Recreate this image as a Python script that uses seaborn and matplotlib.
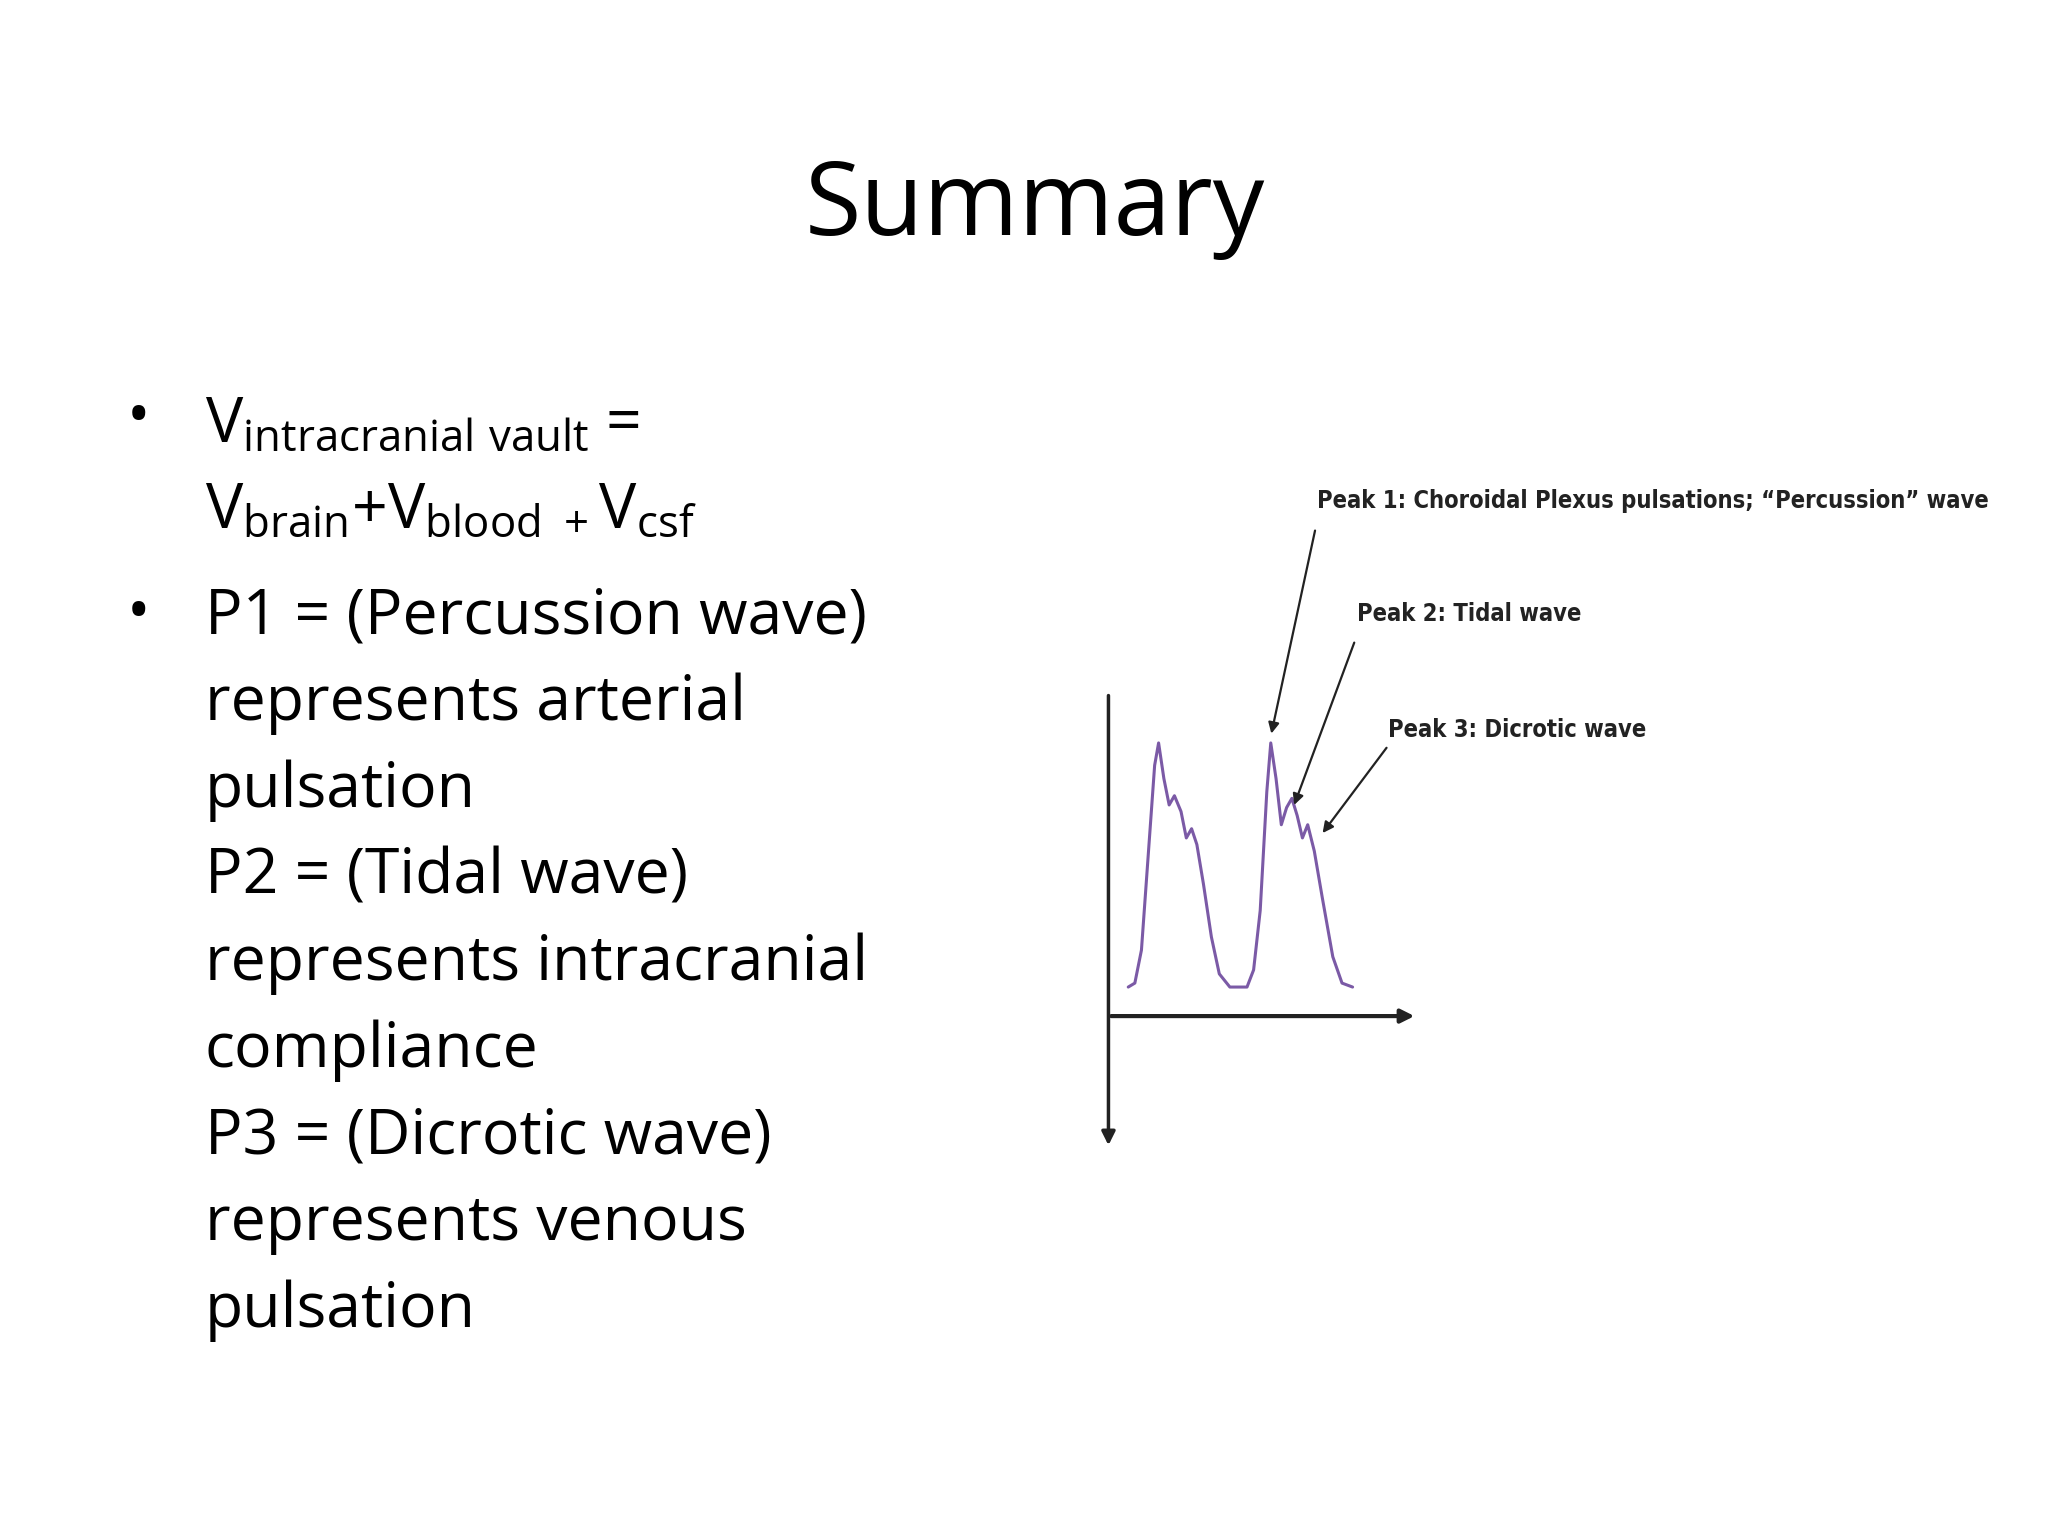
import matplotlib
matplotlib.use("Agg")
import matplotlib.pyplot as plt
import seaborn as sns
import pandas as pd

sns.set_theme(style="white")
plt.rcParams['font.family'] = ['Open Sans', 'DejaVu Sans']
plt.rcParams['mathtext.fontset'] = 'custom'
plt.rcParams['mathtext.rm'] = 'Open Sans'
plt.rcParams['mathtext.it'] = 'Open Sans'
plt.rcParams['text.color'] = 'black'

title = "Summary"
body_lines = ["P1 = (Percussion wave)", "represents arterial", "pulsation",
              "P2 = (Tidal wave)", "represents intracranial", "compliance",
              "P3 = (Dicrotic wave)", "represents venous", "pulsation"]
peak_labels = ["Peak 1: Choroidal Plexus pulsations; \u201cPercussion\u201d wave",
               "Peak 2: Tidal wave", "Peak 3: Dicrotic wave"]

# waveform (time, pressure) in image pixel units
wave_t = [855, 860, 865, 870, 875, 878, 882, 886, 890, 895, 899, 903, 907, 912, 918, 924, 932,
          945, 950, 955, 960, 963, 967, 971, 975, 979, 983, 987, 991, 996, 1002, 1010, 1017, 1025]
wave_p = [748, 745, 720, 650, 580, 563, 590, 610, 603, 615, 635, 628, 640, 670, 710, 738, 748,
          748, 735, 690, 600, 563, 590, 625, 612, 605, 618, 635, 625, 645, 680, 725, 745, 748]

fig = plt.figure(figsize=(20.48, 15.36), dpi=100)
ax = fig.add_axes([0, 0, 1, 1])
ax.set_xlim(0, 1552)
ax.set_ylim(1164, 0)
ax.axis('off')

ax.text(784, 178, title, ha='center', va='baseline', fontsize=74, color='black')

fs = 45
ax.text(105, 330, "\u2022", fontsize=fs, va='baseline', ha='center', color='black')
ax.text(155, 335, r"V$_{\mathrm{intracranial\ vault}}$ =", fontsize=fs, va='baseline', color='black')
ax.text(155, 400, r"V$_{\mathrm{brain}}$+V$_{\mathrm{blood}\ +}$V$_{\mathrm{csf}}$", fontsize=fs, va='baseline', color='black')
ax.text(105, 478, "\u2022", fontsize=fs, va='baseline', ha='center', color='black')
for i, line in enumerate(body_lines):
    ax.text(155, 480 + i * 65.7, line, fontsize=fs, va='baseline', color='black')

df = pd.DataFrame({"t": wave_t, "p": wave_p})
sns.lineplot(data=df, x="t", y="p", ax=ax, color="#7b5aa6", lw=2.2, sort=False)
ax.axis('off')

ax.annotate("", xy=(840, 870), xytext=(840, 525),
            arrowprops=dict(arrowstyle="-|>", color="#222222", lw=2.5, mutation_scale=20))
ax.annotate("", xy=(1074, 770), xytext=(840, 770),
            arrowprops=dict(arrowstyle="-|>", color="#222222", lw=3, mutation_scale=20))

lab_font = dict(family=['DejaVu Sans'], fontstretch='condensed', fontweight='bold',
                fontsize=17, color="#222222", va='center')
ax.text(998, 380, peak_labels[0], **lab_font)
ax.text(1028, 465, peak_labels[1], **lab_font)
ax.text(1052, 553, peak_labels[2], **lab_font)
ap = dict(arrowstyle="-|>", color="#222222", lw=1.6, mutation_scale=16)
ax.annotate("", xy=(963, 558), xytext=(997, 400), arrowprops=ap)
ax.annotate("", xy=(980, 612), xytext=(1027, 485), arrowprops=ap)
ax.annotate("", xy=(1001, 633), xytext=(1052, 565), arrowprops=ap)

fig.savefig("out.png", dpi=100, facecolor="white")
